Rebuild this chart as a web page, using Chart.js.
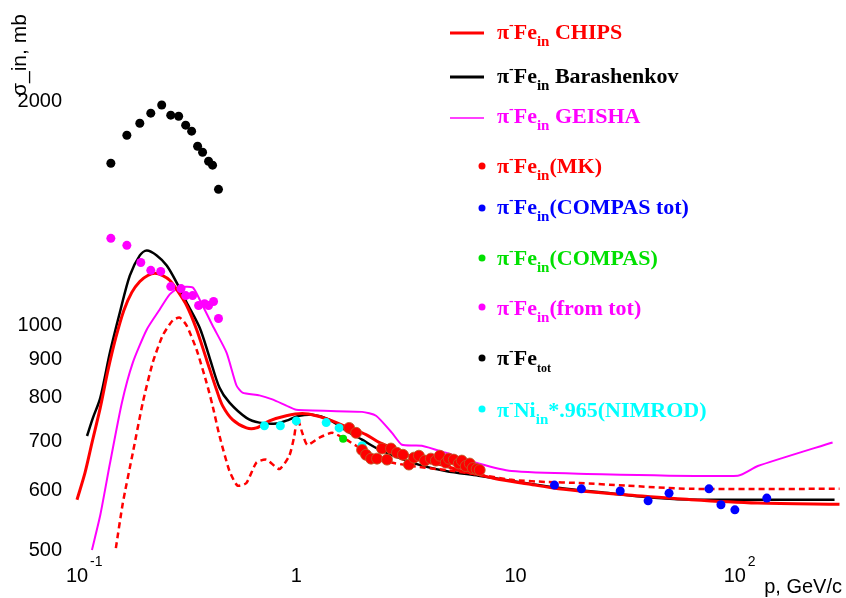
<!DOCTYPE html>
<html>
<head>
<meta charset="utf-8">
<script src="https://cdn.jsdelivr.net/npm/chart.js@4/dist/chart.umd.min.js"></script>
<style>
  html, body { margin: 0; padding: 0; background: #fff; }
  #wrap { width: 846px; height: 598px; }
  canvas { display: block; }
</style>
</head>
<body>
<div id="wrap"><canvas id="c" width="846" height="598"></canvas></div>
<script>
// pi- Fe inelastic cross sections (mb) versus momentum p (GeV/c)

// CHIPS, solid
const chipsP = [0.1, 0.1088, 0.117, 0.1277, 0.1383, 0.1504, 0.1635, 0.1778, 0.1934, 0.2102, 0.2262, 0.246, 0.2647, 0.2847, 0.3162, 0.3511, 0.3899, 0.4329, 0.4609, 0.5118, 0.5925, 0.6579, 0.7539, 0.9006, 1.065, 1.233, 1.458, 1.742, 2.08, 2.384, 2.848, 3.368, 4.024, 4.806, 5.683, 6.79, 8.111, 11.46, 15.69, 23.84, 31.62, 63.1, 127.2, 300];
const chipsSigma = [584, 635, 696, 776, 870, 964, 1048, 1108, 1146, 1167, 1175, 1167, 1150, 1118, 1064, 988, 900, 820, 781, 748, 729, 729, 745, 757, 762, 757, 745, 729, 714, 697, 682, 667, 656, 648, 638, 631, 623, 613, 604, 597, 593, 584, 578, 576];

// CHIPS variant, dashed
const chipsAltP = [0.1504, 0.1618, 0.1797, 0.1995, 0.2215, 0.246, 0.2731, 0.2938, 0.3162, 0.3511, 0.3899, 0.4151, 0.4467, 0.496, 0.5393, 0.5925, 0.6579, 0.7305, 0.8368, 0.9293, 0.9793, 1.0105, 1.065, 1.122, 1.272, 1.458, 1.688, 1.874, 2.384, 3.368, 4.806, 6.79, 9.59, 13.69, 19.34, 31.62, 63.1, 300];
const chipsAltSigma = [503, 578, 675, 788, 892, 970, 1016, 1025, 1000, 928, 838, 781, 711, 638, 610, 615, 655, 661, 642, 669, 711, 752, 718, 692, 707, 718, 703, 690, 661, 648, 640, 631, 621, 617, 615, 610, 604, 604];

// Barashenkov
const barP = [0.1111, 0.1182, 0.1277, 0.1413, 0.1568, 0.1741, 0.1934, 0.2081, 0.231, 0.2565, 0.2847, 0.3162, 0.3623, 0.4022, 0.4467, 0.496, 0.5925, 0.6788, 0.8111, 0.9293, 1.032, 1.182, 1.413, 1.688, 1.995, 2.384, 3.368, 4.806, 6.79, 9.59, 15.69, 23.84, 44.67, 67.9, 284.8];
const barSigma = [711, 752, 800, 920, 1041, 1167, 1242, 1261, 1242, 1204, 1142, 1074, 994, 906, 825, 788, 752, 741, 739, 748, 757, 759, 748, 723, 703, 682, 655, 638, 629, 619, 606, 598, 587, 584, 584];

// GEISHA
const geishaP = [0.117, 0.1277, 0.1413, 0.1602, 0.1797, 0.2081, 0.2384, 0.2647, 0.2938, 0.3367, 0.3623, 0.4151, 0.4808, 0.5337, 0.5683, 0.6788, 0.7776, 0.9006, 1.0, 1.995, 2.31, 2.732, 3.033, 3.738, 4.806, 6.79, 9.59, 19.34, 103.2, 127.2, 279];
const geishaSigma = [500, 557, 653, 788, 892, 988, 1051, 1101, 1125, 1125, 1084, 1000, 920, 831, 813, 806, 796, 781, 771, 766, 757, 718, 692, 690, 675, 653, 638, 633, 629, 648, 697];

// measurements
const mkP = [1.742, 1.874, 1.995, 2.08, 2.193, 2.334, 2.46, 2.592, 2.703, 2.878, 3.064, 3.263, 3.439, 3.624, 3.858, 4.108, 4.329, 4.513, 4.806, 4.96, 5.227, 5.508, 5.683, 5.926, 6.18, 6.376, 6.647, 6.861];
const mkSigma = [729, 718, 681, 671, 663, 663, 684, 661, 684, 675, 671, 651, 665, 669, 659, 663, 659, 669, 655, 663, 661, 653, 659, 648, 653, 644, 642, 640];

const compasTotP = [15.04, 19.95, 30.0, 40.2, 50.1, 76.2, 86.4, 100, 139.8];
const compasTotSigma = [611, 604, 600, 582, 596, 604, 575, 566, 587];

const compasP = [1.635];
const compasSigma = [705];

const fromTotP = [0.1427, 0.1688, 0.1954, 0.217, 0.2409, 0.2676, 0.2981, 0.313, 0.3367, 0.3585, 0.3818, 0.3981, 0.4195, 0.4418];
const fromTotSigma = [1309, 1281, 1215, 1186, 1182, 1128, 1121, 1097, 1097, 1064, 1070, 1064, 1077, 1022];

const totP = [0.1427, 0.1688, 0.1934, 0.217, 0.2434, 0.2676, 0.2908, 0.313, 0.3332, 0.3548, 0.3738, 0.3981, 0.4151, 0.4418];
const totSigma = [1651, 1800, 1868, 1927, 1976, 1915, 1909, 1857, 1823, 1740, 1708, 1661, 1641, 1523];

const nimrodP = [0.7155, 0.8459, 1.0, 1.369, 1.568, 1.995];
const nimrodSigma = [734, 734, 745, 741, 729, 690];

// axis ticks
const xTickValues = [0.1, 1, 10, 100];
const xTickBase = ['10', '1', '10', '10'];
const xTickExp = ['-1', '', '', '2'];
const yTickValues = [500, 600, 700, 800, 900, 1000, 2000];

// legend text
const legendTarget = ['Fe', 'Fe', 'Fe', 'Fe', 'Fe', 'Fe', 'Fe', 'Fe', 'Ni'];
const legendSub = ['in', 'in', 'in', 'in', 'in', 'in', 'in', 'tot', 'in'];
const legendTail = [' CHIPS', ' Barashenkov', ' GEISHA', '(MK)', '(COMPAS tot)', '(COMPAS)', '(from tot)', '', '*.965(NIMROD)'];

const RED = '#ff0000', BLACK = '#000000', MAGENTA = '#ff00ff', BLUE = '#0000ff', GREEN = '#00e000', CYAN = '#00ffff';

const legendStyle = [
  { kind: 'line', color: RED, lw: 3, y: 33, base: 39 },
  { kind: 'line', color: BLACK, lw: 3, y: 77, base: 83 },
  { kind: 'line', color: MAGENTA, lw: 1.5, y: 118, base: 123 },
  { kind: 'dot', color: RED, y: 166, base: 173 },
  { kind: 'dot', color: BLUE, y: 208, base: 214 },
  { kind: 'dot', color: GREEN, y: 258, base: 265 },
  { kind: 'dot', color: MAGENTA, y: 307, base: 315 },
  { kind: 'dot', color: BLACK, y: 358, base: 365 },
  { kind: 'dot', color: CYAN, y: 409, base: 417 }
];

const pts = (xs, ys) => xs.map((x, i) => ({ x: x, y: ys[i] }));

function lineSet(xs, ys, color, width, dash, order, tension) {
  return {
    data: pts(xs, ys), showLine: true, borderColor: color, backgroundColor: color,
    borderWidth: width, borderDash: dash || [], pointRadius: 0, pointHoverRadius: 0,
    tension: tension, order: order, clip: false
  };
}
function dotSet(xs, ys, color, radius, border, order) {
  return {
    data: pts(xs, ys), showLine: false, backgroundColor: color,
    borderColor: border || color, borderWidth: border ? 1 : 0,
    pointRadius: radius, pointHoverRadius: radius, order: order
  };
}

const SANS = '"Liberation Sans", Arial, Helvetica, sans-serif';
const SERIF = '"Liberation Serif", "Times New Roman", serif';

const textPlugin = {
  id: 'textPlugin',
  afterDraw(chart) {
    const ctx = chart.ctx;
    const xs = chart.scales.x;
    ctx.save();

    // exponents of the x tick labels
    ctx.fillStyle = '#000';
    ctx.font = '14px ' + SANS;
    ctx.textAlign = 'left';
    ctx.textBaseline = 'alphabetic';
    xTickValues.forEach((v, i) => {
      if (xTickExp[i]) ctx.fillText(xTickExp[i], xs.getPixelForValue(v) + 13, 566);
    });

    // axis titles
    ctx.font = '20px ' + SANS;
    ctx.textAlign = 'right';
    ctx.fillText('p, GeV/c', 842, 593);
    ctx.save();
    ctx.translate(26, 96);
    ctx.rotate(-Math.PI / 2);
    ctx.textAlign = 'left';
    ctx.font = '21px ' + SANS;
    ctx.fillText('σ_in, mb', 0, 0);
    ctx.restore();

    // legend
    legendStyle.forEach((st, i) => {
      if (st.kind === 'line') {
        ctx.strokeStyle = st.color;
        ctx.lineWidth = st.lw;
        ctx.beginPath();
        ctx.moveTo(450, st.y);
        ctx.lineTo(484, st.y);
        ctx.stroke();
      } else {
        ctx.fillStyle = st.color;
        ctx.beginPath();
        ctx.arc(482, st.y, 3.5, 0, Math.PI * 2);
        ctx.fill();
      }
      ctx.fillStyle = st.color;
      ctx.textAlign = 'left';
      let x = 497;
      const parts = [
        { t: 'π', f: 'bold 22px ' + SERIF, dy: 0 },
        { t: '-', f: 'bold 14px ' + SERIF, dy: -10 },
        { t: legendTarget[i], f: 'bold 22px ' + SERIF, dy: 0 },
        { t: legendSub[i], f: 'bold ' + (legendSub[i] === 'tot' ? 12 : 15) + 'px ' + SERIF, dy: 7 },
        { t: legendTail[i], f: 'bold 22px ' + SERIF, dy: 0 }
      ];
      parts.forEach(p => {
        if (!p.t) return;
        ctx.font = p.f;
        ctx.fillText(p.t, x, st.base + p.dy);
        x += ctx.measureText(p.t).width;
      });
    });
    ctx.restore();
  }
};

new Chart(document.getElementById('c'), {
  type: 'scatter',
  data: {
    datasets: [
      dotSet(mkP, mkSigma, RED, 5.5, 'rgba(190,90,40,0.85)', 0),
      dotSet(compasTotP, compasTotSigma, BLUE, 4.5, null, 0),
      dotSet(compasP, compasSigma, GREEN, 4, null, 0),
      dotSet(fromTotP, fromTotSigma, MAGENTA, 4.5, null, 0),
      dotSet(totP, totSigma, BLACK, 4.5, null, 0),
      dotSet(nimrodP, nimrodSigma, CYAN, 4.5, null, 1),
      lineSet(chipsP, chipsSigma, RED, 3, null, 2, 0.3),
      lineSet(chipsAltP, chipsAltSigma, RED, 2.5, [6, 4], 3, 0.2),
      lineSet(barP, barSigma, BLACK, 2.5, null, 4, 0.3),
      lineSet(geishaP, geishaSigma, MAGENTA, 2, null, 5, 0.2)
    ]
  },
  options: {
    responsive: false,
    animation: false,
    devicePixelRatio: 1,
    layout: { padding: { top: 10, right: 4, left: 0, bottom: 0 } },
    plugins: { legend: { display: false }, tooltip: { enabled: false } },
    scales: {
      x: {
        type: 'logarithmic', min: 0.1, max: 300,
        grid: { display: false, drawTicks: false },
        border: { display: false },
        afterBuildTicks: s => { s.ticks = xTickValues.map(v => ({ value: v })); },
        afterFit: s => { s.height = 48; s.paddingLeft = 0; s.paddingRight = 0; },
        ticks: {
          autoSkip: false, maxRotation: 0, padding: 14, color: '#000',
          font: { size: 20, family: SANS },
          callback: v => { const i = xTickValues.indexOf(v); return i >= 0 ? xTickBase[i] : ''; }
        }
      },
      y: {
        type: 'logarithmic', min: 500, max: 2650,
        grid: { display: false, drawTicks: false },
        border: { display: false },
        afterBuildTicks: s => { s.ticks = yTickValues.map(v => ({ value: v })); },
        afterFit: s => { s.width = 77; s.paddingTop = 0; s.paddingBottom = 0; },
        ticks: {
          autoSkip: false, padding: 15, color: '#000',
          font: { size: 20, family: SANS },
          callback: v => String(v)
        }
      }
    }
  },
  plugins: [textPlugin]
});
</script>
</body>
</html>
